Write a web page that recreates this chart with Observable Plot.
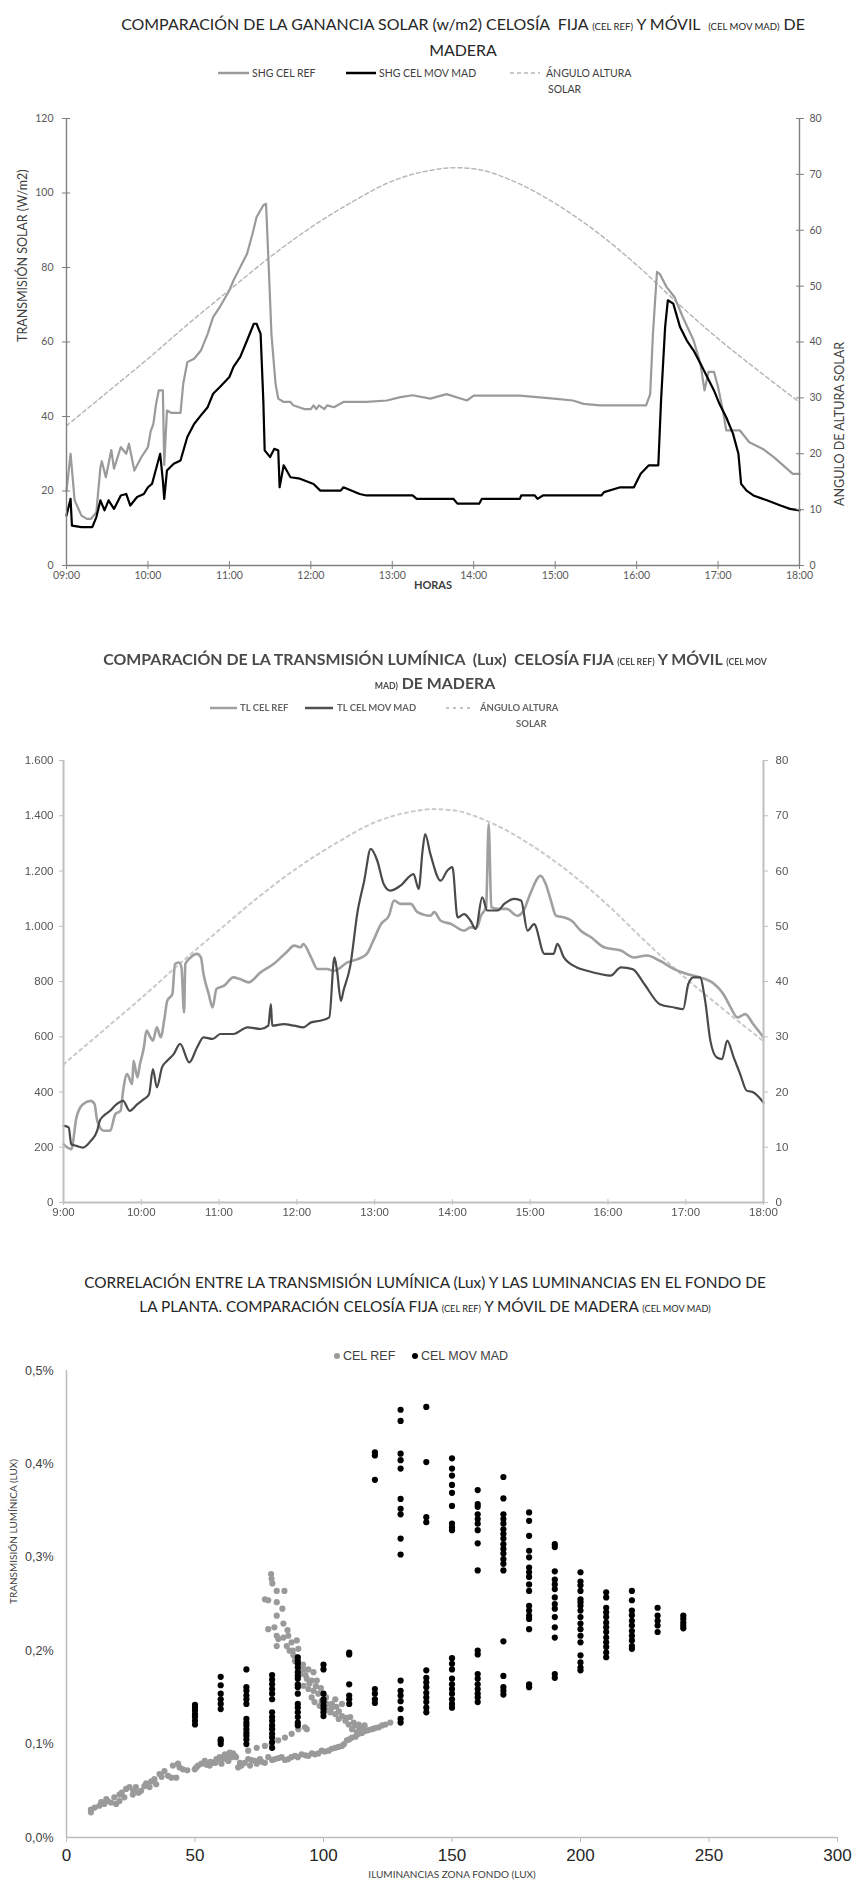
<!DOCTYPE html>
<html>
<head>
<meta charset="utf-8">
<script src="https://cdn.jsdelivr.net/npm/d3@7"></script>
<script src="https://cdn.jsdelivr.net/npm/@observablehq/plot@0.6"></script>
<style>
  html, body { margin: 0; padding: 0; background: #fff; }
  #root { position: relative; width: 852px; height: 1882px; overflow: hidden; background: #fff; }
  .abs { position: absolute; white-space: nowrap; }
</style>
</head>
<body>
<div id="root"></div>
<script>
// ---------------- DATA ----------------
// Panel 1: solar heat gain (W/m2)
const shgRef = [
  ["09:00",20],["09:03",30],["09:06",17.5],["09:11",13.4],["09:15",12.5],["09:18",12.5],["09:22",14.3],["09:25",26.4],["09:26",28],["09:29",23.7],
  ["09:33",31],["09:35",26],["09:40",31.8],["09:44",30],["09:46",32.7],["09:50",25.5],["09:55",29],["10:00",31.8],["10:02",36],["10:04",38],
  ["10:06",43.4],["10:08",47],["10:11",47],["10:12",27],["10:14",41.6],["10:17",41],["10:24",41],["10:26",48.8],["10:29",54.6],["10:34",55.5],
  ["10:39",57.7],["10:44",62.2],["10:48",66.7],["10:53",69.4],["11:00",73.9],["11:03",76.5],["11:08",80.1],["11:13",83.7],["11:17",89],["11:20",93.5],
  ["11:25",96.7],["11:27",97.1],["11:29",80],["11:31",62],["11:34",48.8],["11:36",44.8],["11:40",43.9],["11:45",43.9],["11:47",43],["11:55",42],
  ["12:00",42],["12:02",43],["12:04",42],["12:06",43],["12:10",42],["12:12",43],["12:17",42.5],["12:24",43.9],["12:41",43.9],["12:56",44.3],
  ["13:06",45.2],["13:15",45.7],["13:28",44.8],["13:40",46],["13:55",44.3],["14:00",45.6],["14:34",45.6],["14:59",44.8],["15:13",44.3],["15:21",43.4],
  ["15:33",43],["16:07",43],["16:10",46],["16:12",62],["16:15",78.8],["16:17",78.3],["16:22",74.8],["16:28",72],["16:34",66.7],["16:42",60.4],
  ["16:47",54.2],["16:50",47],["16:53",52],["16:57",52],["17:00",47.9],["17:04",40.7],["17:06",36.3],["17:16",36.3],["17:23",33.1],["17:33",31.3],
  ["17:41",29.1],["17:48",26.9],["17:55",24.6],["18:00",24.6]
];
const shgMov = [
  ["09:00",13.4],["09:03",17.9],["09:04",10.7],["09:11",10.3],["09:19",10.3],["09:22",13],["09:25",17.5],["09:28",14.8],["09:31",17.5],["09:35",15.2],
  ["09:40",18.8],["09:44",19.2],["09:47",16.1],["09:52",18.4],["09:57",19.2],["10:00",21],["10:03",21.9],["10:07",27.3],["10:09",30],["10:11",22.8],
  ["10:12",17.9],["10:14",25.5],["10:19",27.3],["10:24",28.2],["10:29",34.5],["10:34",38],["10:39",40.3],["10:44",42.5],["10:48",46.1],["10:53",47.9],
  ["11:00",50.6],["11:03",53.3],["11:08",56],["11:13",60.4],["11:18",64.9],["11:20",64.9],["11:23",62.2],["11:25",44.3],["11:26",30.9],["11:30",29.1],
  ["11:33",31.3],["11:36",30.9],["11:37",21],["11:40",26.9],["11:45",23.7],["11:52",23.3],["12:02",21.9],["12:07",20.1],["12:22",20.1],["12:24",21],
  ["12:36",19.2],["12:41",18.8],["13:15",18.8],["13:18",17.9],["13:45",17.9],["13:48",16.6],["14:04",16.6],["14:06",17.9],["14:34",17.9],["14:35",18.8],
  ["14:45",18.8],["14:47",17.9],["14:51",18.8],["15:34",18.8],["15:36",19.7],["15:48",21],["15:58",21],["16:03",24.6],["16:09",26.9],["16:16",26.9],
  ["16:18",44.3],["16:21",64],["16:23",71.2],["16:27",70.3],["16:32",64],["16:37",60.4],["16:42",57.7],["16:47",54.2],["16:52",50.6],["16:57",47],
  ["17:01",43.4],["17:06",39.8],["17:11",35.4],["17:15",30],["17:17",21.9],["17:21",20.1],["17:26",18.8],["17:36",17.5],["17:46",16.1],["17:53",15.2],
  ["18:00",14.8]
];
// Solar altitude angle (degrees), shared by panels 1 and 2
const solarAngle = [
  ["09:00",25],["09:30",31],["10:00",37],["10:30",43.3],["11:00",49.3],["11:30",55.2],["12:00",60.5],["12:30",65],["13:00",68.8],["13:30",70.8],
  ["13:45",71.2],["14:00",71],["14:30",68.7],["15:00",64.8],["15:30",59.8],["16:00",53.8],["16:30",47],["17:00",40.6],["17:30",34.8],["18:00",29.2]
];
// Panel 2: light transmission (lux)
const tlRef = [
  ["09:00",211],["09:03",199],["09:06",193],["09:10",308],["09:15",356],["09:21",368],["09:24",356],["09:26",296],["09:31",260],["09:36",260],
  ["09:40",320],["09:44",332],["09:46",405],["09:49",465],["09:53",429],["09:54",513],["09:57",453],["09:59",501],["10:02",561],["10:04",622],
  ["10:07",598],["10:09",586],["10:12",634],["10:15",598],["10:18",670],["10:20",730],["10:24",755],["10:26",863],["10:29",869],["10:31",851],
  ["10:33",688],["10:34",863],["10:38",887],["10:43",900],["10:46",887],["10:48",827],["10:52",755],["10:55",706],["10:58",773],["11:04",785],
  ["11:11",815],["11:16",809],["11:23",797],["11:32",833],["11:42",863],["11:52",906],["11:58",930],["12:03",924],["12:05",936],["12:11",887],
  ["12:16",845],["12:23",845],["12:29",839],["12:39",869],["12:47",881],["12:54",900],["12:59",948],["13:05",1008],["13:11",1038],["13:15",1093],
  ["13:20",1081],["13:28",1081],["13:33",1051],["13:43",1038],["13:46",1051],["13:51",1020],["13:59",1008],["14:09",984],["14:14",996],["14:19",996],
  ["14:22",1038],["14:26",1069],["14:28",1370],["14:30",1069],["14:35",1063],["14:42",1063],["14:50",1038],["14:55",1057],["15:00",1117],["15:08",1183],
  ["15:12",1153],["15:16",1093],["15:20",1038],["15:26",1032],["15:32",1020],["15:39",984],["15:47",960],["15:57",924],["16:10",912],["16:20",887],
  ["16:30",894],["16:40",875],["16:51",845],["17:01",827],["17:11",815],["17:22",791],["17:29",755],["17:34",712],["17:40",670],["17:46",682],
  ["17:52",646],["18:00",598]
];
const tlMov = [
  ["09:00",278],["09:04",272],["09:06",211],["09:10",205],["09:15",199],["09:21",223],["09:26",260],["09:28",296],["09:31",314],["09:36",332],
  ["09:41",356],["09:46",368],["09:51",332],["09:57",356],["10:02",374],["10:06",392],["10:09",483],["10:12",417],["10:16",489],["10:20",513],
  ["10:25",537],["10:30",574],["10:37",507],["10:43",561],["10:48",598],["10:55",592],["11:01",610],["11:11",610],["11:22",634],["11:32",628],
  ["11:38",640],["11:40",718],["11:41",640],["11:50",646],["11:58",640],["12:05",634],["12:11",652],["12:18",658],["12:25",670],["12:29",887],
  ["12:31",839],["12:34",730],["12:36",767],["12:41",851],["12:47",1057],["12:52",1165],["12:57",1280],["13:02",1238],["13:07",1153],["13:12",1129],
  ["13:20",1147],["13:30",1189],["13:34",1135],["13:37",1274],["13:39",1334],["13:43",1262],["13:51",1165],["13:56",1201],["14:00",1214],["14:04",1032],
  ["14:09",1044],["14:14",1020],["14:18",990],["14:23",1105],["14:27",1057],["14:35",1057],["14:40",1081],["14:48",1099],["14:53",1093],["14:58",984],
  ["15:03",1008],["15:11",900],["15:18",900],["15:21",936],["15:26",887],["15:36",851],["15:44",839],["15:54",827],["16:02",821],["16:10",851],
  ["16:19",845],["16:28",791],["16:40",718],["16:51",706],["16:58",700],["17:02",791],["17:06",815],["17:11",815],["17:15",730],["17:19",586],
  ["17:24",525],["17:28",519],["17:32",586],["17:37",525],["17:42",465],["17:47",405],["17:52",399],["18:00",362]
];
// Panel 3: scatter (lux in back zone, transmission %)
const celRefPoints = [
  [9.5,0.027],[9.5,0.030],[11,0.032],[12.8,0.034],[13.5,0.038],[14.7,0.036],[15.5,0.041],[16,0.039],[17.3,0.0375],[18.6,0.043],
  [19.3,0.036],[20.6,0.046],[20.6,0.039],[21.5,0.048],[22.5,0.043],[23.2,0.052],[24.5,0.054],[25.8,0.046],[26,0.05],[27,0.054],
  [28,0.048],[29,0.05],[30.3,0.055],[31,0.058],[32.3,0.054],[33,0.06],[34.2,0.0625],[34.9,0.057],[36.2,0.068],[37,0.065],
  [38.1,0.071],[39.5,0.066],[40.8,0.064],[41.4,0.077],[42.7,0.064],[43.4,0.079],[44,0.075],[45.3,0.073],[47,0.072],[49.9,0.073],
  [50.5,0.075],[51.2,0.077],[52.5,0.079],[53.8,0.082],[54.5,0.078],[55.7,0.077],[56,0.081],[57,0.08],[58,0.08],[58.3,0.084],
  [59.6,0.086],[60,0.083],[60.3,0.079],[61,0.085],[61.6,0.089],[62.2,0.084],[62.8,0.088],[63,0.082],[63.5,0.091],[64.2,0.086],
  [64.8,0.09],[65.5,0.0875],[66,0.086],[66.8,0.075],[67.5,0.08],[68.1,0.077],[69.4,0.08],[70.7,0.084],[71.4,0.077],[72,0.083],
  [73.3,0.082],[74,0.079],[75.3,0.084],[76,0.081],[77.2,0.08],[78.5,0.086],[80,0.083],[81.1,0.084],[82.5,0.085],[83.7,0.086],
  [85,0.083],[86.3,0.084],[87.5,0.086],[88.9,0.0875],[90,0.086],[91.5,0.089],[93,0.088],[94.1,0.0875],[95.5,0.09],[96.7,0.089],
  [98,0.09],[99.3,0.093],[100.5,0.092],[102,0.093],[103.2,0.095],[104.6,0.096],[105.8,0.097],[107.2,0.098],[108,0.1],[109.1,0.104],
  [110,0.105],[111.1,0.107],[112.5,0.108],[113.7,0.111],[115,0.112],[116.3,0.114],[117.5,0.115],[118.9,0.116],[120,0.117],[121.5,0.118],
  [122.8,0.12],[124.1,0.121],[126,0.123],
  [70.7,0.093],[74,0.096],[77.2,0.098],[79.8,0.1],[82.4,0.104],[85,0.107],[87.6,0.111],[90.2,0.116],[92.8,0.118],[93.5,0.116],
  [79.6,0.282],[79.8,0.277],[80.1,0.272],[77.2,0.255],[78.5,0.254],[81.8,0.264],[84.8,0.264],[81.8,0.252],[84,0.245],[81.8,0.2375],
  [78.5,0.223],[80.9,0.225],[84.4,0.229],[86,0.222],[81.8,0.216],[82.4,0.2125],[81.8,0.205],[84.4,0.214],[86.3,0.216],[85.7,0.205],
  [87.6,0.209],[86.8,0.2],[88,0.2],[88.3,0.195],[89.6,0.211],[90.2,0.202],[89.5,0.193],[88.9,0.189],[92,0.185],[90.9,0.179],
  [92.2,0.18],[94.1,0.18],[91,0.175],[93,0.174],[96.1,0.177],[93.5,0.17],[95.4,0.168],[97.4,0.168],[94.5,0.165],[92.2,0.1625],
  [94.1,0.159],[97,0.162],[99,0.16],[96.1,0.157],[98,0.154],[95.4,0.15],[101,0.15],[99.3,0.146],[96.5,0.145],[101.3,0.143],
  [103.3,0.143],[98.5,0.141],[105,0.14],[100.7,0.1375],[103,0.138],[102.6,0.134],[106,0.135],[104.6,0.132],[107.2,0.13],[105.9,0.127],
  [109,0.128],[108.5,0.125],[110.4,0.129],[111.7,0.123],[109.8,0.121],[112.4,0.12],[113.7,0.121],[111.1,0.116],[113,0.1125],[114,0.116],
  [115,0.118],[116,0.12],[107.2,0.143],[104.6,0.148]
];
const movLux = [50,60,70,80,90,100,110,120,130,140,150,160,170,180,190,200,210,220,230,240];
const movPct = [
  [0.142,0.139,0.136,0.132,0.129,0.125,0.121],
  [0.172,0.163,0.154,0.148,0.143,0.1375,0.105,0.103,0.1],
  [0.18,0.161,0.157,0.152,0.148,0.143,0.127,0.123,0.12,0.116,0.112,0.109,0.105,0.1],
  [0.174,0.169,0.164,0.159,0.154,0.148,0.134,0.129,0.125,0.12,0.116,0.111,0.107,0.102,0.096],
  [0.193,0.189,0.186,0.182,0.177,0.173,0.17,0.164,0.161,0.154,0.143,0.139,0.134,0.129,0.123,0.12],
  [0.185,0.18,0.154,0.148,0.145,0.141,0.1375,0.134,0.13],
  [0.198,0.196,0.164,0.152,0.148,0.143],
  [0.4125,0.409,0.383,0.159,0.154,0.148,0.144],
  [0.458,0.446,0.411,0.404,0.395,0.3625,0.352,0.346,0.32,0.303,0.168,0.157,0.152,0.146,0.1375,0.127,0.123],
  [0.461,0.402,0.343,0.3375,0.179,0.171,0.166,0.161,0.155,0.15,0.145,0.139,0.134],
  [0.406,0.395,0.3875,0.3775,0.369,0.355,0.336,0.332,0.329,0.192,0.186,0.18,0.17,0.164,0.159,0.154,0.148,0.143,0.139],
  [0.372,0.357,0.354,0.346,0.341,0.336,0.329,0.315,0.286,0.2,0.196,0.175,0.17,0.164,0.159,0.154,0.15,0.145],
  [0.386,0.363,0.346,0.341,0.336,0.33,0.325,0.32,0.314,0.309,0.304,0.298,0.293,0.286,0.21,0.173,0.161,0.157,0.153],
  [0.348,0.339,0.323,0.307,0.3,0.289,0.284,0.279,0.271,0.264,0.248,0.243,0.2375,0.234,0.223,0.164,0.161],
  [0.314,0.311,0.285,0.276,0.271,0.266,0.257,0.25,0.245,0.236,0.225,0.214,0.175,0.171],
  [0.284,0.274,0.27,0.264,0.255,0.252,0.248,0.243,0.236,0.229,0.223,0.216,0.209,0.195,0.1875,0.182,0.179],
  [0.2625,0.257,0.246,0.241,0.236,0.23,0.225,0.22,0.214,0.209,0.204,0.198,0.193],
  [0.264,0.254,0.243,0.238,0.232,0.227,0.221,0.216,0.211,0.205,0.202],
  [0.246,0.2375,0.232,0.227,0.22],
  [0.2375,0.234,0.23,0.227,0.224]
];
// Tick values / labels
const hourLabels1 = ["09:00","10:00","11:00","12:00","13:00","14:00","15:00","16:00","17:00","18:00"];
const hourLabels2 = ["9:00","10:00","11:00","12:00","13:00","14:00","15:00","16:00","17:00","18:00"];
const shgTicks = [0,20,40,60,80,100,120];
const angleTicks = [0,10,20,30,40,50,60,70,80];
const luxTicks = [0,200,400,600,800,1000,1200,1400,1600];
const luxLabels = ["0","200","400","600","800","1.000","1.200","1.400","1.600"];
const luxXTicks = [0,50,100,150,200,250,300];
const pctTicks = [0,0.1,0.2,0.3,0.4,0.5];
const pctLabels = ["0,0%","0,1%","0,2%","0,3%","0,4%","0,5%"];

// ---------------- HELPERS ----------------
const FONT_CAL = "Lato, 'Open Sans', sans-serif";
const FONT_ARIAL = "'Liberation Sans', Arial, sans-serif";
const root = document.getElementById("root");
const T = s => { const [h, m] = s.split(":").map(Number); return new Date(Date.UTC(2000, 0, 1, h, m)); };
const rows = arr => arr.map(([t, v]) => ({t: T(t), v}));
function place(el, left, top) {
  el.style.position = "absolute"; el.style.left = left + "px"; el.style.top = top + "px";
  root.appendChild(el); return el;
}
function title(lines, cx, top, lineH, targetW, opts) {
  const d = document.createElement("div");
  d.className = "abs";
  d.style.cssText += `left:${cx - 430}px;top:${top}px;width:860px;text-align:center;font-family:${opts.font};color:${opts.color};line-height:${lineH}px;font-size:17px;font-weight:${opts.weight || 400};${opts.extra || ""}`;
  d.innerHTML = lines.map(l => `<span style="display:inline-block">${l}</span>`).join("<br>");
  root.appendChild(d);
  const w = d.querySelector("span").getBoundingClientRect().width;
  d.style.fontSize = (17 * targetW / w).toFixed(2) + "px";
  return d;
}
function label(text, left, cy, opts) {
  const s = document.createElement("div");
  s.className = "abs";
  s.textContent = text;
  s.style.cssText += `left:${left}px;top:${cy - 8}px;height:16px;line-height:16px;font-family:${opts.font};font-size:${opts.size}px;color:${opts.color};${opts.extra || ""}`;
  root.appendChild(s); return s;
}
function swatch(x1, x2, cy, stroke, width, dash, extra) {
  const ns = "http://www.w3.org/2000/svg";
  const svg = document.createElementNS(ns, "svg");
  svg.setAttribute("width", x2 - x1); svg.setAttribute("height", 8);
  const ln = document.createElementNS(ns, "line");
  ln.setAttribute("x1", 0); ln.setAttribute("x2", x2 - x1); ln.setAttribute("y1", 4); ln.setAttribute("y2", 4);
  ln.setAttribute("stroke", stroke); ln.setAttribute("stroke-width", width);
  if (dash) ln.setAttribute("stroke-dasharray", dash);
  svg.appendChild(ln);
  svg.style.cssText = `position:absolute;left:${x1}px;top:${cy - 4}px;${extra || ""}`;
  root.appendChild(svg);
}
function dotSwatch(cx, cy, r, fill) {
  const ns = "http://www.w3.org/2000/svg";
  const svg = document.createElementNS(ns, "svg");
  svg.setAttribute("width", 2 * r + 2); svg.setAttribute("height", 2 * r + 2);
  const c = document.createElementNS(ns, "circle");
  c.setAttribute("cx", r + 1); c.setAttribute("cy", r + 1); c.setAttribute("r", r); c.setAttribute("fill", fill);
  svg.appendChild(c);
  svg.style.cssText = `position:absolute;left:${cx - r - 1}px;top:${cy - r - 1}px;`;
  root.appendChild(svg);
}

// ---------------- PANEL 1 ----------------
title([
  'COMPARACIÓN DE LA GANANCIA SOLAR (w/m2) CELOSÍA&nbsp; FIJA <span style="font-size:0.6em">(CEL REF)</span> Y MÓVIL&nbsp; <span style="font-size:0.6em">(CEL MOV MAD)</span> DE',
  'MADERA'
], 463, 11.5, 23, 684, {font: FONT_CAL, color: "#262626"});

const LEG1 = {font: FONT_CAL, size: 10.5, color: "#404040"};
swatch(218, 249, 73, "#9a9a9a", 2.5);
label("SHG CEL REF", 252, 73, LEG1);
swatch(346, 376, 73, "#000", 2.5);
label("SHG CEL MOV MAD", 379, 73, LEG1);
swatch(510, 540, 73, "#b8b8b8", 1.5, "4,3");
label("ÁNGULO ALTURA", 546, 73, LEG1);
label("SOLAR", 548, 89, LEG1);

const K1 = 120 / 80;
const x1Ticks = hourLabels1.map(T);
const AX1 = "#808080";
const chart1 = Plot.plot({
  width: 852, height: 500,
  marginTop: 18, marginBottom: 35, marginLeft: 66, marginRight: 53,
  style: {fontFamily: FONT_CAL, fontSize: "10.5px", color: "#595959", background: "transparent", overflow: "visible"},
  x: {type: "utc", domain: [T("09:00"), T("18:00")]},
  y: {domain: [0, 120]},
  marks: [
    Plot.line(rows(solarAngle), {x: "t", y: d => d.v * K1, stroke: "#b8b8b8", strokeWidth: 1.5, strokeDasharray: "4,3", curve: "monotone-x"}),
    Plot.line(rows(shgRef), {x: "t", y: "v", stroke: "#9a9a9a", strokeWidth: 2.2}),
    Plot.line(rows(shgMov), {x: "t", y: "v", stroke: "#000", strokeWidth: 2.2}),
    Plot.ruleX([T("09:00"), T("18:00")], {stroke: AX1, strokeWidth: 1.4}),
    Plot.ruleY([0], {stroke: AX1, strokeWidth: 1.4}),
    Plot.axisY({ticks: shgTicks, anchor: "left", tickSize: 8, dx: 4, fill: "none", stroke: AX1, label: null}),
    Plot.axisY({ticks: shgTicks, anchor: "left", tickSize: 0, tickPadding: 13, label: null}),
    Plot.axisY({ticks: angleTicks.map(v => v * K1), anchor: "right", tickSize: 8, dx: -4, fill: "none", stroke: AX1, label: null}),
    Plot.axisY({ticks: angleTicks.map(v => v * K1), anchor: "right", tickSize: 0, tickPadding: 10, tickFormat: v => angleTicks[Math.round(v / K1 / 10)], label: null}),
    Plot.axisX({ticks: x1Ticks, anchor: "bottom", tickSize: 8, dy: -4, fill: "none", stroke: AX1, label: null}),
    Plot.axisX({ticks: x1Ticks, anchor: "bottom", tickSize: 0, tickPadding: 6, tickFormat: d => hourLabels1[x1Ticks.findIndex(t => +t === +d)], label: null}),
    Plot.text(["HORAS"], {text: d => d, frameAnchor: "bottom", dy: 23, fontWeight: "bold", fontSize: 11, fill: "#404040"}),
    Plot.text(["TRANSMISIÓN SOLAR (W/m2)"], {text: d => d, frameAnchor: "left", dx: -44, rotate: -90, fontSize: 12.5, fill: "#404040"}),
    Plot.text(["ANGULO DE ALTURA SOLAR"], {text: d => d, frameAnchor: "right", dx: 40, rotate: -90, fontSize: 12.5, fill: "#404040"})
  ]
});
place(chart1, 0, 100);

// ---------------- PANEL 2 ----------------
const BLUR = "filter:blur(0.6px);";
title([
  'COMPARACIÓN DE LA TRANSMISIÓN LUMÍNICA&nbsp; (Lux)&nbsp; CELOSÍA FIJA <span style="font-size:0.55em">(CEL REF)</span> Y MÓVIL <span style="font-size:0.55em">(CEL MOV</span>',
  '<span style="font-size:0.55em">MAD)</span> DE MADERA'
], 435, 647.5, 21, 664, {font: FONT_CAL, color: "#4a4a4a", weight: 700, extra: BLUR});

const LEG2 = {font: FONT_CAL, size: 9.5, color: "#666", extra: BLUR + "font-weight:700;"};
swatch(210, 237, 708, "#a0a0a0", 2.5, null, BLUR);
label("TL CEL REF", 240, 708, LEG2);
swatch(305, 333, 708, "#505050", 2.5, null, BLUR);
label("TL CEL MOV MAD", 337, 708, LEG2);
swatch(446, 471, 708, "#c4c4c4", 2, "3,4", BLUR);
label("ÁNGULO ALTURA", 480, 708, LEG2);
label("SOLAR", 516, 724, LEG2);

const K2 = 1600 / 80;
const x2Ticks = hourLabels2.map(T);
const AX2 = "#c0c0c0";
const chart2 = Plot.plot({
  width: 852, height: 490,
  marginTop: 20, marginBottom: 28, marginLeft: 63, marginRight: 89,
  style: {fontFamily: FONT_ARIAL, fontSize: "11.5px", color: "#555", background: "transparent", overflow: "visible"},
  x: {type: "utc", domain: [T("09:00"), T("18:00")]},
  y: {domain: [0, 1600]},
  marks: [
    Plot.line(rows(solarAngle), {x: "t", y: d => d.v * K2, stroke: "#cacaca", strokeWidth: 2, strokeDasharray: "3,4", curve: "monotone-x"}),
    Plot.line(rows(tlRef), {x: "t", y: "v", stroke: "#a0a0a0", strokeWidth: 2.6, curve: "monotone-x"}),
    Plot.line(rows(tlMov), {x: "t", y: "v", stroke: "#4a4a4a", strokeWidth: 2.2, curve: "monotone-x"}),
    Plot.ruleX([T("09:00"), T("18:00")], {stroke: AX2, strokeWidth: 2}),
    Plot.ruleY([0], {stroke: AX2, strokeWidth: 2}),
    Plot.axisY({ticks: luxTicks, anchor: "left", tickSize: 4, stroke: AX2, tickPadding: 6, tickFormat: v => luxLabels[luxTicks.indexOf(v)], label: null}),
    Plot.axisY({ticks: angleTicks.map(v => v * K2), anchor: "right", tickSize: 4, stroke: AX2, tickPadding: 8, tickFormat: v => angleTicks[Math.round(v / K2 / 10)], label: null}),
    Plot.axisX({ticks: x2Ticks, anchor: "bottom", tickSize: 6, dy: -3, fill: "none", stroke: AX2, label: null}),
    Plot.axisX({ticks: x2Ticks, anchor: "bottom", tickSize: 0, tickPadding: 5, tickFormat: d => hourLabels2[x2Ticks.findIndex(t => +t === +d)], label: null})
  ]
});
chart2.style.filter = "blur(0.6px)";
place(chart2, 0, 740);

// ---------------- PANEL 3 ----------------
title([
  'CORRELACIÓN ENTRE LA TRANSMISIÓN LUMÍNICA (Lux) Y LAS LUMINANCIAS EN EL FONDO DE',
  'LA PLANTA. COMPARACIÓN CELOSÍA FIJA <span style="font-size:0.6em">(CEL REF)</span> Y MÓVIL DE MADERA <span style="font-size:0.6em">(CEL MOV MAD)</span>'
], 425, 1270, 24, 682, {font: FONT_CAL, color: "#262626"});

const LEG3 = {font: FONT_ARIAL, size: 12.5, color: "#404040"};
dotSwatch(337, 1356, 3, "#9a9a9a");
label("CEL REF", 343, 1356, LEG3);
dotSwatch(415, 1356, 3, "#000");
label("CEL MOV MAD", 421, 1356, LEG3);

const refPts = celRefPoints.map(([x, y]) => ({x, y}));
const movPts = movLux.flatMap((x, i) => movPct[i].map(y => ({x, y})));
const AX3 = "#bdbdbd";
const chart3 = Plot.plot({
  width: 852, height: 520,
  marginTop: 8, marginBottom: 45, marginLeft: 66, marginRight: 15,
  style: {fontFamily: FONT_ARIAL, fontSize: "12.5px", color: "#404040", background: "transparent", overflow: "visible"},
  x: {domain: [0, 300]},
  y: {domain: [0, 0.5]},
  marks: [
    Plot.ruleX([0], {stroke: AX3, strokeWidth: 1.5}),
    Plot.ruleY([0], {stroke: AX3, strokeWidth: 1.5}),
    Plot.axisY({ticks: pctTicks, anchor: "left", tickSize: 0, tickPadding: 13, tickFormat: v => pctLabels[pctTicks.indexOf(v)], label: null}),
    Plot.axisX({ticks: luxXTicks, anchor: "bottom", tickSize: 5, stroke: AX3, tickPadding: 6, fontSize: 17, fill: "#262626", label: null}),
    Plot.dot(refPts, {x: "x", y: "y", r: 3.1, fill: "#9a9a9a"}),
    Plot.dot(movPts, {x: "x", y: "y", r: 3.1, fill: "#000"}),
    Plot.text(["ILUMINANCIAS ZONA FONDO (LUX)"], {text: d => d, frameAnchor: "bottom", dy: 40, fontSize: 10, fontFamily: FONT_CAL, fill: "#404040"}),
    Plot.text(["TRANSMISIÓN LUMÍNICA (LUX)"], {text: d => d, frameAnchor: "left", dx: -53, rotate: -90, fontSize: 10, fontFamily: FONT_CAL, fill: "#404040"})
  ]
});
place(chart3, 0, 1362);
</script>
</body>
</html>
